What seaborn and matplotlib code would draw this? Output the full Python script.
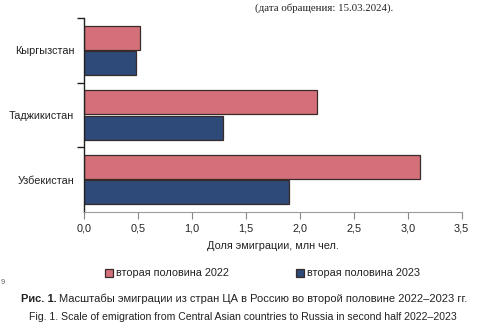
import matplotlib
matplotlib.use("Agg")
import matplotlib.pyplot as plt
import seaborn as sns
import pandas as pd
from matplotlib.ticker import FixedLocator, FuncFormatter

countries = ["Кыргызстан", "Таджикистан", "Узбекистан"]
series = ["вторая половина 2022", "вторая половина 2023"]
values_2022 = [0.52, 2.16, 3.11]
values_2023 = [0.48, 1.285, 1.90]
x_ticks = [0.0, 0.5, 1.0, 1.5, 2.0, 2.5, 3.0, 3.5]

df = pd.DataFrame({
    "country": countries * 2,
    "period": [series[0]] * 3 + [series[1]] * 3,
    "value": values_2022 + values_2023,
})

sns.set_style("white")
plt.rcParams["font.family"] = ["Liberation Sans", "DejaVu Sans"]

FS = 7.8

fig = plt.figure(figsize=(4.91, 3.30), dpi=100)
ax = fig.add_axes([84 / 491, 1 - 212 / 330, (461.7 - 84) / 491, (212 - 18) / 330])

palette = {series[0]: "#D4707A", series[1]: "#2D4A78"}
sns.barplot(data=df, y="country", x="value", hue="period", orient="h",
            palette=palette, width=0.775, gap=0.04, saturation=1,
            edgecolor="#3a2b2b", linewidth=0.9, ax=ax, legend=True)

ax.set_xlim(0, 3.5)
ax.set_ylim(2.5, -0.5)
ax.xaxis.set_major_locator(FixedLocator(x_ticks))
ax.xaxis.set_major_formatter(FuncFormatter(lambda v, p: f"{v:.1f}".replace(".", ",")))
ax.set_yticks([0, 1, 2])
ax.set_yticklabels(countries)
ax.yaxis.set_minor_locator(FixedLocator([-0.5, 0.5, 1.5]))
ax.tick_params(axis="y", which="major", length=0, labelsize=FS, pad=7, colors="#222222")
ax.tick_params(axis="y", which="minor", length=5, width=1, color="#222222", left=True)
ax.tick_params(axis="x", which="major", length=5, width=0.8, color="#888888",
               labelsize=FS, labelcolor="#222222", pad=3.5, bottom=True, direction="out")

for s in ["top", "right"]:
    ax.spines[s].set_visible(False)
ax.spines["left"].set_color("#222222")
ax.spines["left"].set_linewidth(1)
ax.spines["bottom"].set_color("#9a9a9a")
ax.spines["bottom"].set_linewidth(0.8)

ax.set_ylabel("")
ax.set_xlabel("Доля эмиграции, млн чел.", fontsize=FS, color="#222222", labelpad=5)

handles, labels = ax.get_legend_handles_labels()
ax.get_legend().remove()
fig.legend(handles, labels, loc="center", bbox_to_anchor=(262.5 / 491, 1 - 273.5 / 330),
           ncol=2, frameon=False, fontsize=FS, handlelength=0.74, handleheight=0.74,
           handletextpad=0.3, columnspacing=6.2, labelcolor="#222222")

fig.text(324 / 491, 1 - 8 / 330, "(дата обращения: 15.03.2024).", ha="center", va="center",
         fontsize=7.8, family=["Liberation Serif", "DejaVu Serif"], color="#222222")
fig.text(1 / 491, 1 - 283 / 330, "9", ha="left", va="center", fontsize=5.5, color="#666666")

t1 = fig.text(20.7 / 491, 1 - 299 / 330, "Рис. 1.", ha="left", va="center",
              fontsize=8, fontweight="bold", color="#222222")
fig.canvas.draw()
bb = t1.get_window_extent()
fig.text((bb.x1 + 3) / 491, 1 - 299 / 330,
         "Масштабы эмиграции из стран ЦА в Россию во второй половине 2022–2023 гг.",
         ha="left", va="center", fontsize=8, color="#222222")
fig.text(243 / 491, 1 - 317 / 330,
         "Fig. 1. Scale of emigration from Central Asian countries to Russia in second half 2022–2023",
         ha="center", va="center", fontsize=7.55, color="#222222")

fig.savefig("out.png", dpi=100)
